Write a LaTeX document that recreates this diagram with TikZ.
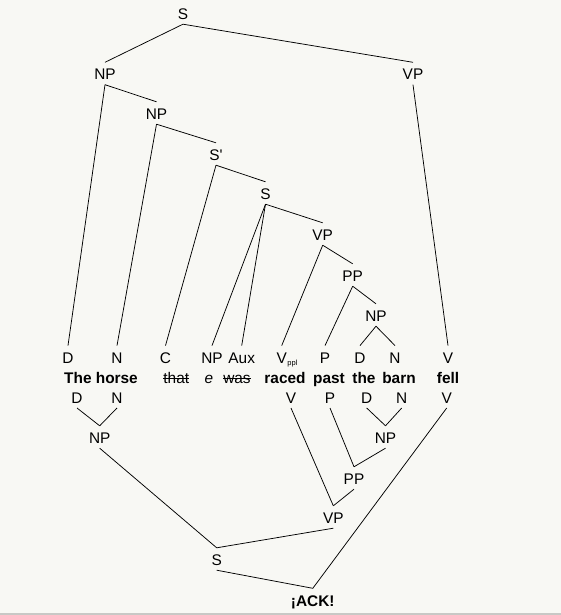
\documentclass[tikz,border=0pt]{standalone}
\usepackage{fontspec}
\setmainfont{Liberation Sans}
\definecolor{paper}{RGB}{248, 248, 244}
\definecolor{rimgray}{RGB}{200, 200, 197}
\newcommand{\treesize}{\fontsize{15.4}{18}\selectfont}
\newsavebox{\strkbox}
\newcommand{\strk}[1]{\sbox{\strkbox}{#1}\rlap{\rule[0.33em]{\wd\strkbox}{0.65pt}}#1}
\newcommand{\subppl}{\rlap{\kern0.6pt\raisebox{-2pt}{\fontsize{7.5}{7.5}\selectfont ppl}}}

\tikzset{
  cat/.style={anchor=base, inner xsep=1pt, inner ysep=4.5pt, text height=13pt, text depth=0pt},
  word/.style={anchor=base, font=\treesize\bfseries, inner sep=1pt},
  branch/.style={line width=0.75pt}
}

\begin{document}
\begin{tikzpicture}[x=1pt, y=-1pt, font=\treesize]
  \useasboundingbox (0,0) rectangle (561,615);
  \fill[paper] (0,0) rectangle (561,615);
  \fill[rimgray] (0,612.5) rectangle (561,615);

  % Reading 1 - garden path parse (top down)
  \node[cat] (s0) at (183,19.5) {S};
  \node[cat] (np1) at (105,80) {NP};
  \node[cat] (vp1) at (413,80) {VP};
  \node[cat] (np2) at (156.5,119.5) {NP};
  \node[cat] (sbar) at (216,160.5) {S\textquotesingle};
  \node[cat] (s1) at (265.5,199.5) {S};
  \node[cat] (vp2) at (322.7,240.5) {VP};
  \node[cat] (pp1) at (352.7,281.5) {PP};
  \node[cat] (np3) at (376,321.5) {NP};
  \foreach \n/\x/\t in {d1/68/D, n1/117/N, c1/165.5/C, np4/212/NP, aux/241.7/Aux, v1/281.7/V\subppl, p1/325/P, d2/360/D, n2/395/N, v2/448/V} {
    \node[cat] (\n) at (\x,363.3) {\t};
  }

  % The sentence
  \node[word] (w1) at (101,383.3) {The horse};
  \node[word, font=\treesize] (w2) at (176.3,383.3) {\strk{that}};
  \node[word, font=\treesize\itshape] (w3) at (209,383.3) {e};
  \node[word, font=\treesize] (w4) at (237,383.3) {\strk{was}};
  \node[word] (w5) at (285,383.3) {raced};
  \node[word] (w6) at (329,383.3) {past};
  \node[word] (w7) at (364,383.3) {the};
  \node[word] (w8) at (399,383.3) {barn};
  \node[word] (w9) at (448,383.3) {fell};

  % Reading 2 - first-pass parse (bottom up)
  \foreach \n/\x/\t in {d3/77/D, n3/117/N, v3/291/V, p3/330/P, d4/366.7/D, n4/401.7/N, v4/446.7/V} {
    \node[cat] (\n) at (\x,403.3) {\t};
  }
  \node[cat] (np5) at (99.7,443.5) {NP};
  \node[cat] (np6) at (385.5,443.5) {NP};
  \node[cat] (pp2) at (354,484.5) {PP};
  \node[cat] (vp3) at (333.3,523.5) {VP};
  \node[cat] (s2) at (216.7,565.5) {S};
  \node[cat, font=\treesize\bfseries] (ack) at (312.8,606) {¡ACK!};

  % Branches
  \foreach \a/\b in {s0/np1, s0/vp1, np1/np2, np1/d1, np2/sbar, np2/n1, sbar/s1, sbar/c1, s1/np4, s1/aux, s1/vp2, vp2/v1, vp2/pp1, pp1/p1, pp1/np3, np3/d2, np3/n2, vp1/v2, d3/np5, n3/np5, np5/s2, v3/vp3, p3/pp2, d4/np6, n4/np6, np6/pp2, pp2/vp3, vp3/s2, s2/ack, v4/ack} {
    \draw[branch] (\a.south) -- (\b.north);
  }
\end{tikzpicture}
\end{document}
